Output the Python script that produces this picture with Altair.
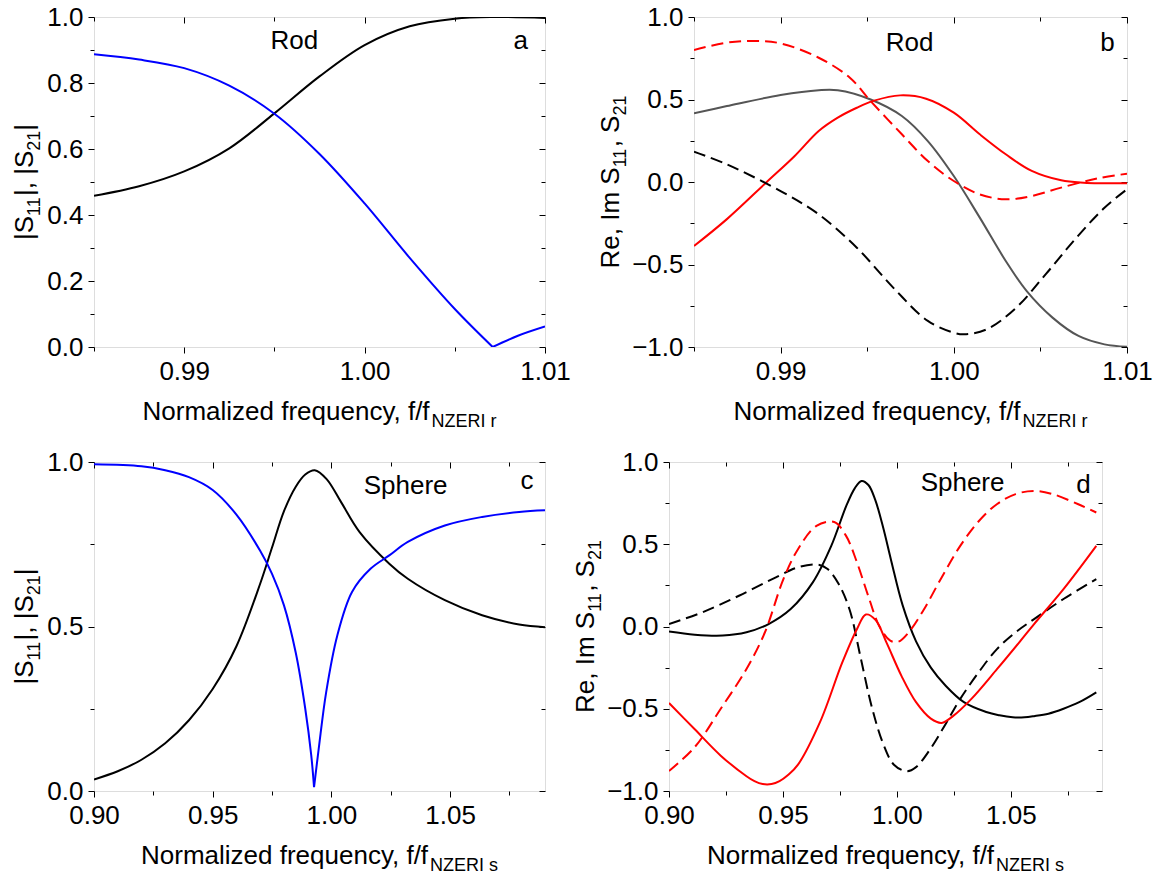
import altair as alt
import pandas as pd

# ---------------- data ----------------
# Panel a : Rod, magnitudes
a_black_x = [0.985, 0.9875, 0.99, 0.9925, 0.995, 0.9975, 1.0, 1.0025, 1.005, 1.007, 1.01]
a_black_y = [0.458, 0.487, 0.532, 0.602, 0.708, 0.82, 0.915, 0.972, 0.995, 1.0, 0.997]
# blue has a cusp at its zero, so it is kept as two branches
a_blue1_x = [0.985, 0.9875, 0.99, 0.9925, 0.995, 0.9975, 1.0, 1.0025, 1.005, 1.0071]
a_blue1_y = [0.887, 0.871, 0.845, 0.792, 0.707, 0.585, 0.435, 0.27, 0.115, 0.0]
a_blue2_x = [1.0071, 1.0085, 1.01]
a_blue2_y = [0.0, 0.034, 0.062]

# Panel b : Rod, Re / Im
b_gray_x = [0.985, 0.9869, 0.99, 0.9922, 0.9933, 0.9952, 0.997, 0.9985, 1.0, 1.0015, 1.003, 1.0042, 1.0057, 1.0072, 1.0087, 1.01]
b_gray_y = [0.416, 0.46, 0.527, 0.556, 0.556, 0.50, 0.40, 0.248, 0.036, -0.216, -0.479, -0.66, -0.822, -0.933, -0.984, -0.998]
b_red_x = [0.985, 0.9869, 0.9892, 0.9908, 0.9922, 0.9933, 0.9944, 0.9954, 0.9969, 0.9984, 1.0, 1.0015, 1.003, 1.0045, 1.0062, 1.0075, 1.01]
b_red_y = [-0.388, -0.225, 0.0, 0.156, 0.309, 0.39, 0.45, 0.493, 0.525, 0.505, 0.42, 0.289, 0.168, 0.067, 0.01, -0.004, -0.008]
b_redd_x = [0.985, 0.9869, 0.9884, 0.99, 0.9922, 0.994, 0.9952, 0.997, 0.9985, 1.0, 1.0015, 1.003, 1.0045, 1.0062, 1.0083, 1.01]
b_redd_y = [0.80, 0.845, 0.855, 0.84, 0.753, 0.632, 0.49, 0.289, 0.127, 0.006, -0.075, -0.105, -0.085, -0.034, 0.022, 0.05]
b_blkd_x = [0.985, 0.9869, 0.99, 0.9922, 0.9944, 0.9965, 0.9985, 1.0, 1.0006, 1.0019, 1.0036, 1.0053, 1.007, 1.0087, 1.01]
b_blkd_y = [0.184, 0.107, -0.055, -0.196, -0.398, -0.64, -0.842, -0.913, -0.923, -0.893, -0.762, -0.56, -0.347, -0.156, -0.044]

# Panel c : Sphere, magnitudes
c_blue1_x = [0.90, 0.92, 0.93, 0.94, 0.95, 0.96, 0.97, 0.975, 0.98, 0.985, 0.989, 0.9915, 0.9927]
c_blue1_y = [0.993, 0.987, 0.975, 0.954, 0.915, 0.84, 0.73, 0.66, 0.565, 0.42, 0.25, 0.11, 0.012]
c_blue2_x = [0.9927, 0.9947, 0.9978, 1.0025, 1.0087, 1.0166, 1.0244, 1.0322, 1.0478, 1.0635, 1.0791, 1.09]
c_blue2_y = [0.012, 0.13, 0.30, 0.473, 0.605, 0.676, 0.716, 0.757, 0.807, 0.833, 0.848, 0.853]
c_black_x = [0.90, 0.91, 0.92, 0.93, 0.94, 0.95, 0.96, 0.97, 0.975, 0.98, 0.985, 0.989, 0.993, 0.998, 1.0041, 1.0119, 1.0244, 1.0322, 1.0478, 1.0635, 1.0791, 1.09]
c_black_y = [0.035, 0.060, 0.095, 0.145, 0.215, 0.31, 0.44, 0.63, 0.74, 0.85, 0.925, 0.962, 0.975, 0.948, 0.878, 0.787, 0.691, 0.645, 0.58, 0.534, 0.506, 0.498]

# Panel d : Sphere, Re / Im
d_blk_x = [0.90, 0.9113, 0.9236, 0.934, 0.9437, 0.9534, 0.9631, 0.9712, 0.9777, 0.9815, 0.9845, 0.9875, 0.9905, 0.994, 0.9975, 1.0025, 1.0084, 1.0149, 1.0214, 1.0294, 1.0392, 1.045, 1.0508, 1.056, 1.0602, 1.0665, 1.0731, 1.08, 1.0875]
d_blk_y = [-0.031, -0.05, -0.055, -0.035, 0.015, 0.106, 0.268, 0.49, 0.73, 0.84, 0.885, 0.86, 0.77, 0.60, 0.40, 0.13, -0.09, -0.25, -0.36, -0.46, -0.52, -0.54, -0.552, -0.552, -0.545, -0.53, -0.50, -0.46, -0.40]
d_blkd_x = [0.90, 0.9146, 0.9307, 0.9469, 0.9566, 0.9657, 0.9696, 0.9744, 0.9793, 0.9841, 0.989, 0.9939, 0.9987, 1.0044, 1.0084, 1.0149, 1.0214, 1.0278, 1.0359, 1.044, 1.0521, 1.0602, 1.0731, 1.0875]
d_blkd_y = [0.015, 0.086, 0.187, 0.299, 0.36, 0.376, 0.349, 0.26, 0.10, -0.19, -0.49, -0.71, -0.84, -0.88, -0.855, -0.74, -0.592, -0.44, -0.278, -0.136, -0.035, 0.045, 0.167, 0.288]
d_red_x = [0.90, 0.9113, 0.9227, 0.934, 0.9375, 0.9411, 0.945, 0.9485, 0.9525, 0.9566, 0.9663, 0.976, 0.9825, 0.9864, 0.9906, 0.9955, 1.002, 1.0084, 1.0149, 1.0196, 1.0246, 1.0327, 1.044, 1.0537, 1.0602, 1.0731, 1.0875]
d_red_y = [-0.465, -0.625, -0.785, -0.91, -0.94, -0.958, -0.958, -0.94, -0.90, -0.84, -0.58, -0.22, -0.015, 0.073, 0.04, -0.10, -0.30, -0.46, -0.56, -0.586, -0.545, -0.44, -0.258, -0.096, 0.015, 0.227, 0.49]
d_redd_x = [0.90, 0.9113, 0.9227, 0.934, 0.9421, 0.9502, 0.9566, 0.9647, 0.9725, 0.9777, 0.9825, 0.9874, 0.9922, 0.9971, 1.0007, 1.0052, 1.0117, 1.0197, 1.0278, 1.0359, 1.044, 1.0521, 1.0602, 1.0683, 1.0796, 1.0875]
d_redd_y = [-0.879, -0.733, -0.5, -0.258, -0.035, 0.288, 0.47, 0.612, 0.635, 0.551, 0.389, 0.187, 0.005, -0.086, -0.092, -0.035, 0.10, 0.30, 0.49, 0.64, 0.745, 0.805, 0.824, 0.805, 0.743, 0.693]

# axis tick values
rod_x_major = [0.99, 1.00, 1.01]
rod_x_minor = [0.985, 0.995, 1.005]
sph_x_major = [0.90, 0.95, 1.00, 1.05]
sph_x_minor = [0.925, 0.975, 1.025, 1.075]
a_y_major = [0.0, 0.2, 0.4, 0.6, 0.8, 1.0]
a_y_minor = [0.1, 0.3, 0.5, 0.7, 0.9]
c_y_major = [0.0, 0.5, 1.0]
c_y_minor = [0.25, 0.75]
re_y_major = [-1.0, -0.5, 0.0, 0.5, 1.0]
re_y_minor = [-0.75, -0.25, 0.25, 0.75]

# ---------------- styling ----------------
FONT = "Liberation Sans"
FS = 26
SUB = 18
LW = 2
DASH = [12, 6]
BLACK, BLUE, RED, GRAY = "#000000", "#0000ff", "#ff0000", "#555555"

CW = {"N": 722, "o": 556, "r": 333, "m": 833, "a": 556, "l": 222, "i": 222, "z": 500,
      "e": 556, "d": 556, " ": 278, "f": 278, "q": 556, "u": 556, "n": 556, "c": 500,
      "y": 500, ",": 278, "/": 278, "Z": 611, "E": 667, "R": 722, "I": 278, "s": 500,
      "S": 667, "|": 260, "1": 556, "2": 556}


def tw(s, fs):
    return sum(CW[ch] for ch in s) / 1000.0 * fs


def mk_axis(orient, values, size, offset=0, labels=False, fmt=None):
    kw = dict(orient=orient, values=values, tickSize=size, tickColor="black", tickWidth=1,
              domain=False, grid=False, labels=labels, title=None, offset=offset, ticks=True)
    if labels:
        kw.update(format=fmt, labelFont=FONT, labelFontSize=FS, labelColor="black",
                  labelPadding=5, labelFlush=False, labelOverlap=False)
    return alt.Axis(**kw)


def line(xs, ys, color, dash, xsc, ysc, xaxis=None, yaxis=None, hidden=False):
    df = pd.DataFrame({"x": xs, "y": ys})
    kw = dict(color=color, strokeWidth=LW, interpolate="catmull-rom", clip=True)
    if dash:
        kw["strokeDash"] = dash
    if hidden:
        kw["strokeOpacity"] = 0
    return alt.Chart(df).mark_line(**kw).encode(
        x=alt.X("x:Q", scale=xsc, axis=xaxis),
        y=alt.Y("y:Q", scale=ysc, axis=yaxis),
    )


def text(t, x, y, fs=FS, align="center", baseline="alphabetic", angle=0):
    kw = dict(text=t, font=FONT, fontSize=fs, align=align, baseline=baseline, color="black")
    if angle:
        kw["angle"] = angle
    return alt.Chart(pd.DataFrame({"k": [0]})).mark_text(**kw).encode(
        x=alt.value(x), y=alt.value(y))


def panel(curves, xdom, ydom, xmaj, xmin, ymaj, ymin, xfmt, yfmt, ypieces, ytx,
          xsub, W, H, label, lab_x, lab_y, letter, let_x, let_y):
    xsc = alt.Scale(domain=xdom, nice=False, zero=False)
    ysc = alt.Scale(domain=ydom, nice=False, zero=False)
    fx, fy = curves[0][0], curves[0][1]
    layers = [
        line(fx, fy, BLACK, None, xsc, ysc,
             mk_axis("bottom", xmaj, 6, labels=True, fmt=xfmt),
             mk_axis("left", ymaj, 6, labels=True, fmt=yfmt), hidden=True),
        line(fx, fy, BLACK, None, xsc, ysc,
             mk_axis("bottom", xmin, 4), mk_axis("left", ymin, 4), hidden=True),
        line(fx, fy, BLACK, None, xsc, ysc,
             mk_axis("bottom", xmaj, 6, offset=-H), mk_axis("left", ymaj, 6, offset=-W), hidden=True),
        line(fx, fy, BLACK, None, xsc, ysc,
             mk_axis("bottom", xmin, 4, offset=-H), mk_axis("left", ymin, 4, offset=-W), hidden=True),
    ]
    for xs, ys, col, dash in curves:
        layers.append(line(xs, ys, col, dash, xsc, ysc))
    # in-plot labels
    layers.append(text(label, lab_x, lab_y))
    layers.append(text(letter, let_x, let_y))
    # x title with subscript
    main = "Normalized frequency, f/f"
    wm, ws = tw(main, FS), tw(xsub, SUB)
    start = W / 2 - (wm + ws) / 2
    layers.append(text(main, start, H + 73, align="left"))
    layers.append(text(xsub, start + wm, H + 80, fs=SUB, align="left"))
    # y title with subscripts (rotated)
    total = sum(tw(s, f) for s, f in ypieces)
    ycur = H / 2 + total / 2
    for s, f in ypieces:
        xx = ytx if f == FS else ytx + 7
        layers.append(text(s, xx, ycur, fs=f, align="left", angle=270))
        ycur -= tw(s, f)
    return alt.layer(*layers).resolve_axis(x="independent", y="independent").properties(
        width=W, height=H)


yt_mag = [("|S", FS), ("11", SUB), ("|, |S", FS), ("21", SUB), ("|", FS)]
yt_re = [("Re, Im S", FS), ("11", SUB), (", S", FS), ("21", SUB)]

WA, WB = 451, 433
HT, HB = 330, 329

pa = panel([(a_black_x, a_black_y, BLACK, None), (a_blue1_x, a_blue1_y, BLUE, None),
            (a_blue2_x, a_blue2_y, BLUE, None)],
           [0.985, 1.01], [0, 1], rod_x_major, rod_x_minor, a_y_major, a_y_minor,
           ".2f", ".1f", yt_mag, -61, "NZERI r", WA, HT,
           "Rod", 0.444 * WA, 32, "a", 0.946 * WA, 32)
pb = panel([(b_gray_x, b_gray_y, GRAY, None), (b_red_x, b_red_y, RED, None),
            (b_redd_x, b_redd_y, RED, DASH), (b_blkd_x, b_blkd_y, BLACK, DASH)],
           [0.985, 1.01], [-1, 1], rod_x_major, rod_x_minor, re_y_major, re_y_minor,
           ".2f", ".1f", yt_re, -75, "NZERI r", WB, HT,
           "Rod", 0.498 * WB, 34, "b", 0.955 * WB, 34)
pc = panel([(c_black_x, c_black_y, BLACK, None), (c_blue1_x, c_blue1_y, BLUE, None),
            (c_blue2_x, c_blue2_y, BLUE, None)],
           [0.90, 1.09], [0, 1], sph_x_major, sph_x_minor, c_y_major, c_y_minor,
           ".2f", ".1f", yt_mag, -61, "NZERI s", WA, HB,
           "Sphere", 0.691 * WA, 32, "c", 0.96 * WA, 27)
pd_ = panel([(d_blk_x, d_blk_y, BLACK, None), (d_blkd_x, d_blkd_y, BLACK, DASH),
             (d_red_x, d_red_y, RED, None), (d_redd_x, d_redd_y, RED, DASH)],
            [0.90, 1.09], [-1, 1], sph_x_major, sph_x_minor, re_y_major, re_y_minor,
            ".2f", ".1f", yt_re, -75, "NZERI s", WB, HB,
            "Sphere", 0.678 * WB, 29, "d", 0.957 * WB, 31)

top = alt.hconcat(pa, pb, spacing=26)
bottom = alt.hconcat(pc, pd_, spacing=26)
chart = alt.vconcat(top, bottom, spacing=16).properties(
    padding={"left": 11, "top": 3, "right": 0, "bottom": 0}
).configure_view(stroke="black", strokeWidth=1).configure(font=FONT)

chart.save("out.html", embed_options={"renderer": "svg", "actions": False})
